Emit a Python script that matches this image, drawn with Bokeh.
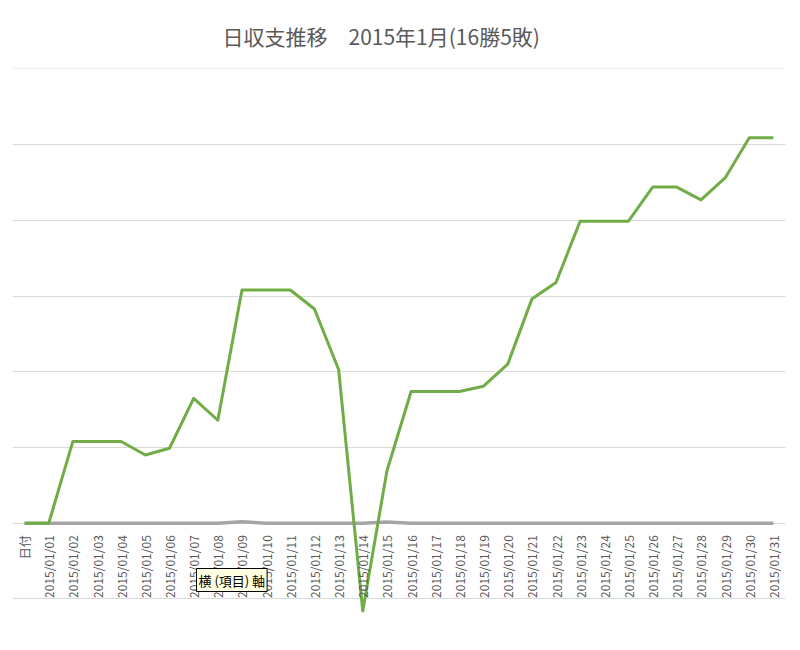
import math
from bokeh.plotting import figure
from bokeh.models import FactorRange, Range1d, Grid, SingleIntervalTicker, Label, ColumnDataSource
from bokeh.core.properties import value
from bokeh.embed import file_html
from bokeh.resources import INLINE

# ---- data ----
categories = ["日付"] + [f"2015/01/{d:02d}" for d in range(1, 32)]
daily_total = [0, 0, 10800, 10800, 10800, 9000, 9900, 16500, 13600, 30800, 30800,
               30800, 28300, 20300, -11600, 6900, 17400, 17400, 17400, 18100, 21000,
               29600, 31800, 39900, 39900, 39900, 44400, 44400, 42700, 45600, 50900, 50900]
second_series = [0, 0, 0, 0, 0, 0, 0, 0, 0, 200, 0, 0, 0, 0, 0, 150, 0, 0, 0, 0, 0,
                 0, 0, 0, 0, 0, 0, 0, 0, 0, 0, 0]
label_base = [0] * len(categories)
title_text = "日収支推移\u30002015年1月(16勝5敗)"
tooltip_text = "横 (項目) 軸"

FONT = "Noto Sans CJK JP"

p = figure(width=798, height=648, output_backend="svg", toolbar_location=None,
           x_range=FactorRange(*categories), y_range=Range1d(-16550, 60060),
           x_axis_type=None, y_axis_type=None,
           min_border_left=12, min_border_right=13, min_border_top=67, min_border_bottom=0)
p.outline_line_color = None
p.background_fill_color = "white"
p.border_fill_color = "white"

p.add_layout(Grid(dimension=1, ticker=SingleIntervalTicker(interval=10000),
                  grid_line_color="#d9d9d9", grid_line_width=1))

p.title.text = title_text
p.title.align = "left"
p.title.offset = 210
p.title.text_font = FONT
p.title.text_font_size = "21px"
p.title.text_font_style = "normal"
p.title.text_color = "#595959"
p.title.standoff = 36

p.line(x=categories, y=second_series, line_color="#a5a5a5", line_width=3.5)
p.line(x=categories, y=daily_total, line_color="#70ad47", line_width=3, line_join="round")

src = ColumnDataSource(dict(x=categories, y=label_base, t=categories))
p.text(x="x", y="y", text="t", source=src, angle=math.pi / 2,
       text_align="right", text_baseline="middle", y_offset=12,
       text_font=value(FONT), text_font_size="12px", text_color="#595959")

p.add_layout(Label(x=184, y=57, x_units="screen", y_units="screen", text=tooltip_text,
                   text_font=FONT, text_font_size="13px", text_color="black",
                   background_fill_color="#ffffe1", border_line_color="black",
                   border_line_width=1, padding=2))

open("out.html", "w").write(file_html(p, INLINE))
